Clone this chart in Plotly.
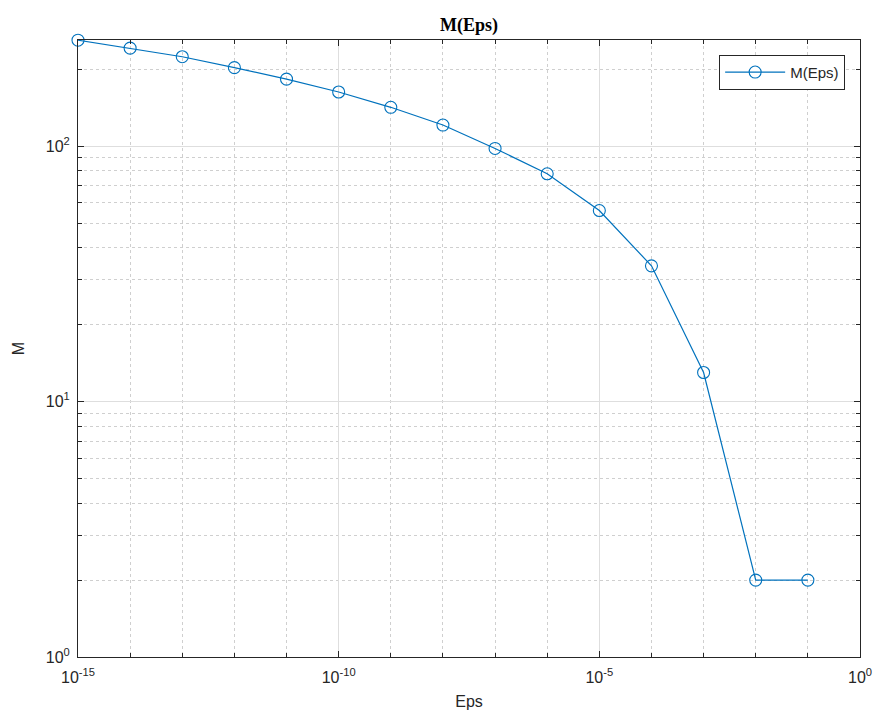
import plotly.graph_objects as go
import numpy as np

eps = [1e-15, 1e-14, 1e-13, 1e-12, 1e-11, 1e-10, 1e-9, 1e-8, 1e-7, 1e-6,
       1e-5, 1e-4, 1e-3, 1e-2, 1e-1]
M = [260, 242, 224, 203, 183, 163, 142, 121, 98, 78, 56, 34, 13, 2, 2]

x_major = [1e-15, 1e-10, 1e-5, 1e0]
x_major_text = ["10<sup>-15</sup>", "10<sup>-10</sup>", "10<sup>-5</sup>", "10<sup>0</sup>"]
x_minor = [10.0 ** k for k in range(-15, 1) if k % 5 != 0]
y_major = [1, 10, 100]
y_major_text = ["10<sup>0</sup>", "10<sup>1</sup>", "10<sup>2</sup>"]
y_minor = [m * 10.0 ** d for d in range(0, 3) for m in range(2, 10) if m * 10.0 ** d < 270]

blue = "#0072BD"
axcol = "#262626"

fig = go.Figure()
fig.add_trace(go.Scatter(
    x=eps, y=M, mode="lines+markers", name="M(Eps)", cliponaxis=False,
    line=dict(color=blue, width=1.2),
    marker=dict(symbol="circle-open", size=12, color=blue, line=dict(width=1.1, color=blue)),
))

common = dict(
    showline=True, linecolor=axcol, linewidth=1, mirror="allticks",
    ticks="inside", ticklen=6, tickcolor=axcol,
    showgrid=True, gridcolor="#dedede", gridwidth=1,
    zeroline=False, automargin=False,
    tickfont=dict(family="Liberation Sans, Arial", size=16, color=axcol),
)

fig.update_xaxes(
    type="log", range=[-15, 0],
    tickvals=x_major, ticktext=x_major_text, ticklabelstandoff=6,
    minor=dict(tickvals=x_minor, ticks="inside", ticklen=4, tickcolor=axcol,
               showgrid=True, gridcolor="#cfcfcf", griddash="dot", gridwidth=1),
    title=dict(text="Eps", font=dict(family="Liberation Sans, Arial", size=16, color=axcol), standoff=10),
    **common,
)
fig.update_yaxes(
    type="log", range=[0, np.log10(260.5)],
    tickvals=y_major, ticktext=y_major_text, ticklabelstandoff=4,
    minor=dict(tickvals=y_minor, ticks="inside", ticklen=4, tickcolor=axcol,
               showgrid=True, gridcolor="#cfcfcf", griddash="dot", gridwidth=1),
    title=dict(text="M", font=dict(family="Liberation Sans, Arial", size=16, color=axcol), standoff=17),
    **common,
)

fig.update_layout(
    width=879, height=722,
    margin=dict(l=78, r=19, t=40, b=65),
    paper_bgcolor="white", plot_bgcolor="white",
    title=dict(text="<b>M(Eps)</b>", x=(78 + 391) / 879, xanchor="center", y=1 - 25 / 722, yanchor="middle",
               font=dict(family="Liberation Serif, Times New Roman", size=18, color="black")),
    legend=dict(x=0.981, y=0.976, xanchor="right", yanchor="top",
                bgcolor="white", bordercolor=axcol, borderwidth=1,
                font=dict(family="Liberation Sans, Arial", size=15, color=axcol),
                itemwidth=60, tracegroupgap=0),
    showlegend=True,
)

fig.write_html("out.html")
